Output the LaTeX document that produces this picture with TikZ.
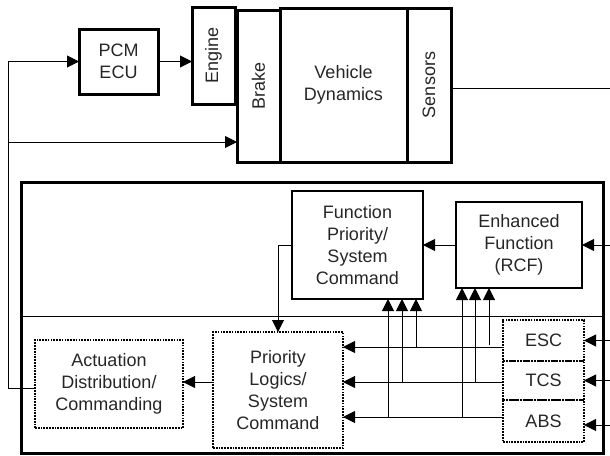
\documentclass[tikz,border=0pt]{standalone}
\usepackage{fontspec}
\setmainfont{Liberation Sans}
\usepackage{graphicx}
\usetikzlibrary{arrows.meta}
\begin{document}
\begin{tikzpicture}[x=1pt,y=-1pt,
  every node/.style={inner sep=0pt,outer sep=0pt,align=center,font=\fontsize{18}{22}\selectfont,text=black!85},
  thickbox/.style={draw,line width=3pt},
  midbox/.style={draw,line width=2.2pt},
  dotbox/.style={draw,line width=1.7pt,dash pattern=on 1.7pt off 1.1pt},
  wire/.style={line width=1pt},
  arr/.style={wire,-{Triangle[length=12pt,width=12pt]}}]
\useasboundingbox (0,0) rectangle (610,455);
% top blocks
\node[thickbox,minimum width=79pt,minimum height=65pt] (pcm) at (118.5,61.5) {PCM\\ECU};
\node[thickbox,minimum width=43pt,minimum height=97pt] (engine) at (213.5,55.5) {\rotatebox{90}{Engine}};
\node[thickbox,minimum width=43pt,minimum height=152pt] (brake) at (258.5,86) {\rotatebox{90}{Brake}};
\node[thickbox,minimum width=127pt,minimum height=154pt] (vd) at (343.5,85) {Vehicle\\Dynamics};
\node[thickbox,minimum width=44pt,minimum height=154pt] (sens) at (429,85) {\rotatebox{90}{Sensors}};
\coordinate (sout) at (610,88);
\coordinate (L1) at (8,61.5);
\coordinate (L2) at (8,142);
\coordinate (L3) at (8,388);
% lower frame
\node[thickbox,minimum width=582pt,minimum height=271pt] (big) at (312,317.5) {};
\coordinate (dv) at (0,316);
\draw[wire] (big.west |- dv) -- (big.east |- dv);
\node[midbox,minimum width=131pt,minimum height=108pt] (fp) at (357.5,245) {Function\\Priority/\\System\\Command};
\node[midbox,minimum width=126pt,minimum height=86pt] (ef) at (519,245) {Enhanced\\Function\\(RCF)};
\node[dotbox,minimum width=130pt,minimum height=116pt] (pl) at (278,390) {Priority\\Logics/\\System\\Command};
\node[dotbox,minimum width=148pt,minimum height=88pt] (act) at (109,384) {Actuation\\Distribution/\\Commanding};
\node[dotbox,minimum width=81pt,minimum height=41pt] (esc) at (543.5,340.5) {ESC};
\node[dotbox,minimum width=81pt,minimum height=39pt] (tcs) at (543.5,380.5) {TCS};
\node[dotbox,minimum width=81pt,minimum height=42pt] (abs) at (543.5,421) {ABS};
\coordinate (ein) at (610,245);
\coordinate (escin) at (610,340.5);
\coordinate (tcsin) at (610,380.5);
\coordinate (absin) at (610,425);
\coordinate (escl) at (0,347);
\coordinate (tcsl) at (0,382);
\coordinate (absl) at (0,417);
% top connectors
\draw[wire] (sens.east |- sout) -- (sout);
\draw[arr] (pcm.east) -- (engine.west |- pcm.east);
\draw[arr] (L3 -| act.west) -- (L3) -- (L1) -- (pcm.west |- L1);
\draw[arr] (L2) -- (L2 -| brake.west);
% lower connectors
\draw[arr] (ein) -- (ef.east);
\draw[arr] (ef.west) -- (fp.east);
\draw[arr] (fp.west) -| (pl.north);
\draw[arr] (pl.west |- 0,382) -- (act.east |- 0,382);
\draw[arr] (escin) -- (esc.east |- escin);
\draw[arr] (tcsin) -- (tcs.east |- tcsin);
\draw[arr] (absin) -- (abs.east |- absin);
\draw[arr] (esc.west |- escl) -- (pl.east |- escl);
\draw[arr] (tcs.west |- tcsl) -- (pl.east |- tcsl);
\draw[arr] (abs.west |- absl) -- (pl.east |- absl);
\draw[arr] (388,417) -- (388,0 |- fp.south);
\draw[arr] (402,382) -- (402,0 |- fp.south);
\draw[arr] (416,347) -- (416,0 |- fp.south);
\draw[arr] (462,417) -- (462,0 |- ef.south);
\draw[arr] (475,382) -- (475,0 |- ef.south);
\draw[arr] (489,345) -- (489,0 |- ef.south);
\end{tikzpicture}
\end{document}
